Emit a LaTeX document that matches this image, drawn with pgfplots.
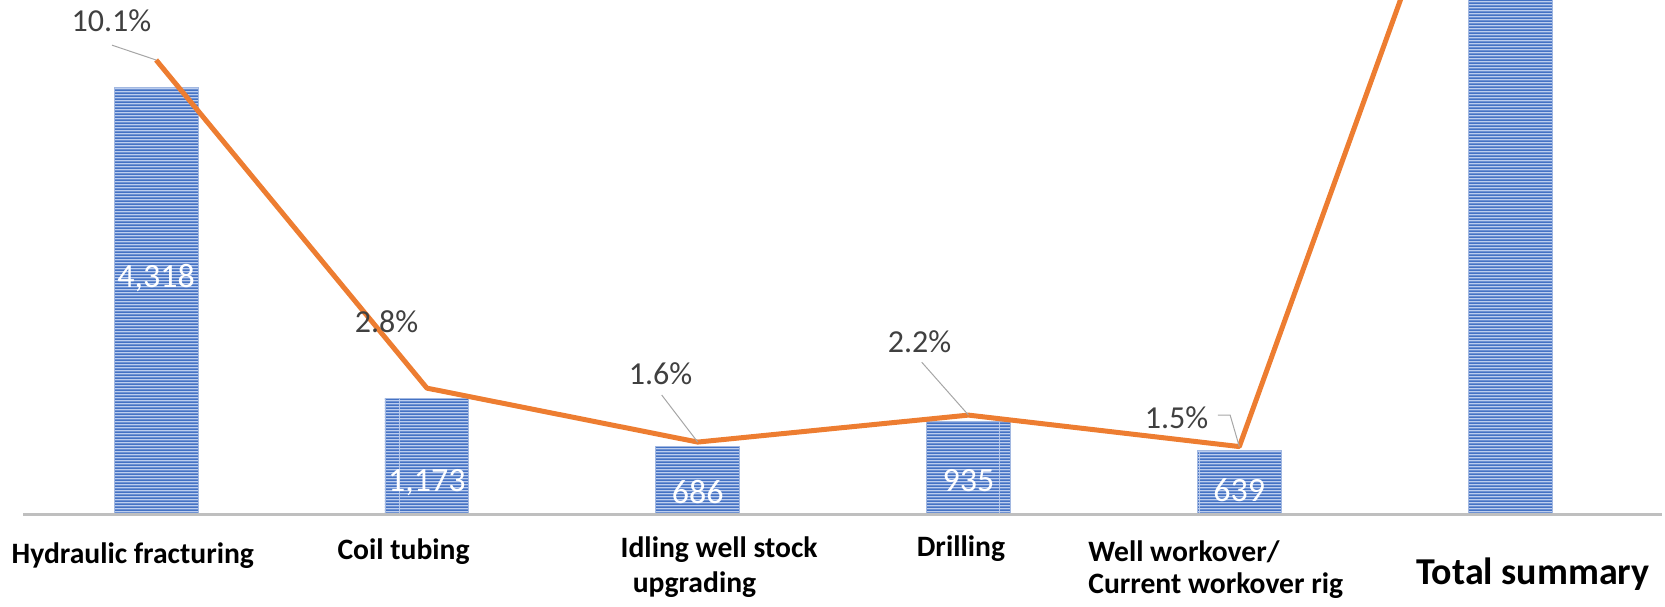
\documentclass[border=0pt]{standalone}
\usepackage{fontspec}
\setmainfont{Carlito}
\usepackage{pgfplots}
\pgfplotsset{compat=1.18}
\usetikzlibrary{patterns}
\pgfdeclarepatternformonly{hstripes}{\pgfpointorigin}{\pgfpoint{100pt}{1.5pt}}{\pgfpoint{100pt}{1.5pt}}{%
  \pgfpathrectangle{\pgfpointorigin}{\pgfpoint{100pt}{1.0pt}}\pgfusepath{fill}}
\definecolor{barblue}{HTML}{4472C4}
\definecolor{barlight}{HTML}{BCCDEE}
\definecolor{lineorange}{HTML}{ED7D31}
\definecolor{txtgray}{HTML}{404040}
\definecolor{leadgray}{HTML}{A6A6A6}
\definecolor{basegray}{HTML}{BFBFBF}
\begin{document}
\begin{tikzpicture}
\path[use as bounding box] (0,-46pt) rectangle (832.5pt,257pt);
\begin{axis}[at={(0,0)},anchor=south west,scale only axis,width=832.5pt,height=257pt,
  xmin=-0.5765,xmax=5.572,ymin=0,ymax=5198,hide axis,clip mode=individual,
  ybar,bar width=0.31]
\addplot[draw=barblue!50,line width=0.4pt,fill=barlight,
  postaction={pattern=hstripes,pattern color=barblue}]
  coordinates {(0,4318) (1,1173) (2,686) (3,935) (4,639) (5,7751)};
\draw[basegray,line width=1.5pt] (axis cs:-0.49,0) -- (axis cs:5.561,0);
% bar value labels
\node[text=white,font=\fontsize{17}{20}\selectfont] at (axis cs:0,2386) {4,318};
\node[text=white,font=\fontsize{17}{20}\selectfont] at (axis cs:1,313) {1,173};
\node[text=white,font=\fontsize{17}{20}\selectfont] at (axis cs:2,225) {686};
\node[text=white,font=\fontsize{17}{20}\selectfont] at (axis cs:3,334) {935};
\node[text=white,font=\fontsize{17}{20}\selectfont] at (axis cs:4,237) {639};
% category labels
\node[font=\bfseries\fontsize{14.8}{17}\selectfont,yshift=-20.7pt] at (axis cs:-0.0861,0) {Hydraulic fracturing};
\node[font=\bfseries\fontsize{14.8}{17}\selectfont,yshift=-19pt] at (axis cs:0.9136,0) {Coil tubing};
\node[font=\bfseries\fontsize{14.8}{17}\selectfont,yshift=-18pt] at (axis cs:2.079,0) {Idling well stock};
\node[font=\bfseries\fontsize{14.8}{17}\selectfont,yshift=-35.5pt] at (axis cs:1.988,0) {upgrading};
\node[font=\bfseries\fontsize{14.8}{17}\selectfont,yshift=-17.5pt] at (axis cs:2.972,0) {Drilling};
\node[font=\bfseries\fontsize{14.8}{17}\selectfont,yshift=-19pt,anchor=west,inner xsep=0pt] at (axis cs:3.441,0) {Well workover/};
\node[font=\bfseries\fontsize{14.8}{17}\selectfont,yshift=-36pt,anchor=west,inner xsep=0pt] at (axis cs:3.441,0) {Current workover rig};
\node[font=\bfseries\fontsize{19}{22}\selectfont,yshift=-30.2pt] at (axis cs:5.084,0) {Total summary};
\end{axis}
\begin{axis}[at={(0,0)},anchor=south west,scale only axis,width=832.5pt,height=257pt,
  xmin=-0.5765,xmax=5.572,ymin=0,ymax=11.435,hide axis,clip mode=individual]
\addplot[lineorange,line width=2.5pt,line join=round]
  coordinates {(0,10.1) (1,2.8) (2,1.6) (3,2.2) (4,1.5) (5,18.2)};
\draw[leadgray,line width=0.5pt] (axis cs:-0.163,10.43) -- (axis cs:0,10.1);
\draw[leadgray,line width=0.5pt] (axis cs:1.867,2.647) -- (axis cs:2,1.6);
\draw[leadgray,line width=0.5pt] (axis cs:2.827,3.379) -- (axis cs:3,2.2);
\draw[leadgray,line width=0.5pt] (axis cs:3.921,2.202) -- (axis cs:3.966,2.202) -- (axis cs:4,1.5);
\node[text=txtgray,font=\fontsize{16}{19}\selectfont] at (axis cs:-0.165,10.97) {10.1\%};
\node[text=txtgray,font=\fontsize{16}{19}\selectfont] at (axis cs:0.851,4.27) {2.8\%};
\node[text=txtgray,font=\fontsize{16}{19}\selectfont] at (axis cs:1.863,3.115) {1.6\%};
\node[text=txtgray,font=\fontsize{16}{19}\selectfont] at (axis cs:2.819,3.826) {2.2\%};
\node[text=txtgray,font=\fontsize{16}{19}\selectfont] at (axis cs:3.768,2.136) {1.5\%};
\end{axis}
\end{tikzpicture}
\end{document}
